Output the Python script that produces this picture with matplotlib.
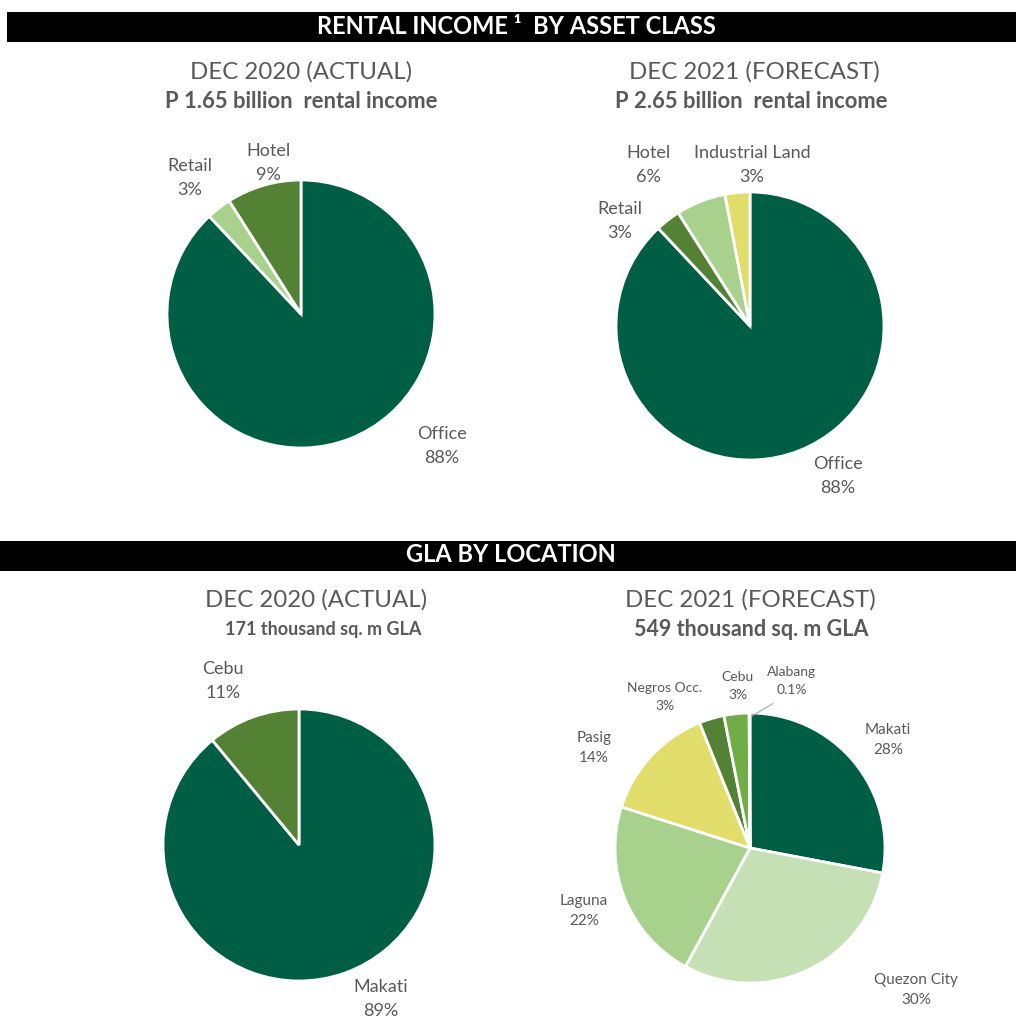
import numpy as np
from matplotlib import pyplot as plt

plt.rcParams['font.family'] = ['Lato', 'DejaVu Sans']

# Data
income_2020_labels = ['Office', 'Retail', 'Hotel']
income_2020_pct = [88, 3, 9]
income_2021_labels = ['Office', 'Retail', 'Hotel', 'Industrial Land']
income_2021_pct = [88, 3, 6, 3]
gla_2020_labels = ['Makati', 'Cebu']
gla_2020_pct = [89, 11]
gla_2021_labels = ['Makati', 'Quezon City', 'Laguna', 'Pasig', 'Negros Occ.', 'Cebu', 'Alabang']
gla_2021_pct = [28, 30, 22, 14, 3, 3, 0.1]

DARK = '#005E45'
MID = '#548235'
LIGHT = '#A9D18E'
PALE = '#C5E0B4'
YELLOW = '#E0DD6A'
GREEN = '#70AD47'
GREY = '#595959'

W, H = 1016, 1019
fig = plt.figure(figsize=(W / 100, H / 100), dpi=100)


def px(x, y):
    return x / W, 1 - y / H


def header(y0, y1, x0, cx, text):
    ax = fig.add_axes([x0 / W, 1 - y1 / H, 1 - x0 / W, (y1 - y0) / H])
    ax.set_facecolor('black')
    ax.set_xticks([])
    ax.set_yticks([])
    for s in ax.spines.values():
        s.set_visible(False)
    fig.text(*px(cx, (y0 + y1) / 2 - 1), text, color='white', fontsize=17,
             fontweight='bold', ha='center', va='center')


def titles(cx, y, title, sub, sub_cx, sub_fs):
    fig.text(*px(cx, y), title, fontsize=17.3, color=GREY, ha='center', va='center')
    fig.text(*px(sub_cx, y + 30), sub, fontsize=sub_fs, color=GREY, fontweight='bold',
             ha='center', va='center')


def pie(cx, cy, r, vals, labels, colors, pos, sizes):
    ax = fig.add_axes([(cx - r) / W, 1 - (cy + r) / H, 2 * r / W, 2 * r / H])
    ax.pie(vals, colors=colors, startangle=90, counterclock=False, radius=1,
           wedgeprops=dict(edgecolor='white', linewidth=2), normalize=True)
    ax.set_xlim(-1, 1)
    ax.set_ylim(-1, 1)
    ax.axis('off')
    for lab, v, (lx, ly), fs in zip(labels, vals, pos, sizes):
        pct = '{:g}%'.format(v)
        ax.text(lx, ly, lab + '\n' + pct, fontsize=fs, color=GREY, ha='center',
                va='center', linespacing=1.6, clip_on=False)
    return ax


# Header bars
header(12, 42, 7, 516, 'RENTAL INCOME \u00b9  BY ASSET CLASS')
header(541, 571, 0, 511, 'GLA BY LOCATION')

titles(301, 72, 'DEC 2020 (ACTUAL)', 'P 1.65 billion  rental income', 301, 15.8)
titles(754, 72, 'DEC 2021 (FORECAST)', 'P 2.65 billion  rental income', 751, 15.8)
titles(316, 600, 'DEC 2020 (ACTUAL)', '171 thousand sq. m GLA', 323, 13)
titles(750, 600, 'DEC 2021 (FORECAST)', '549 thousand sq. m GLA', 751, 15.5)

pie(301, 314, 134, income_2020_pct, income_2020_labels, [DARK, LIGHT, MID],
    [(1.052, -0.985), (-0.828, 1.015), (-0.246, 1.127)], [13] * 3)

pie(750, 326, 134, income_2021_pct, income_2021_labels, [DARK, MID, LIGHT, YELLOW],
    [(0.657, -1.119), (-0.970, 0.784), (-0.761, 1.201), (0.015, 1.201)], [13] * 4)

pie(299, 845, 136, gla_2020_pct, gla_2020_labels, [DARK, MID],
    [(0.603, -1.132), (-0.559, 1.206)], [13] * 2)

ax = pie(750, 848, 135, gla_2021_pct, gla_2021_labels,
         [DARK, PALE, LIGHT, YELLOW, MID, GREEN, GREEN],
         [(1.022, 0.80), (1.23, -1.052), (-1.23, -0.467), (-1.156, 0.741),
          (-0.630, 1.119), (-0.089, 1.20), (0.311, 1.237)],
         [11, 11, 11, 11, 10, 10, 10])
ax.plot([0.17, 0.015], [1.07, 0.978], color='#A6A6A6', lw=0.8, clip_on=False)

fig.savefig('out.png', dpi=100)
